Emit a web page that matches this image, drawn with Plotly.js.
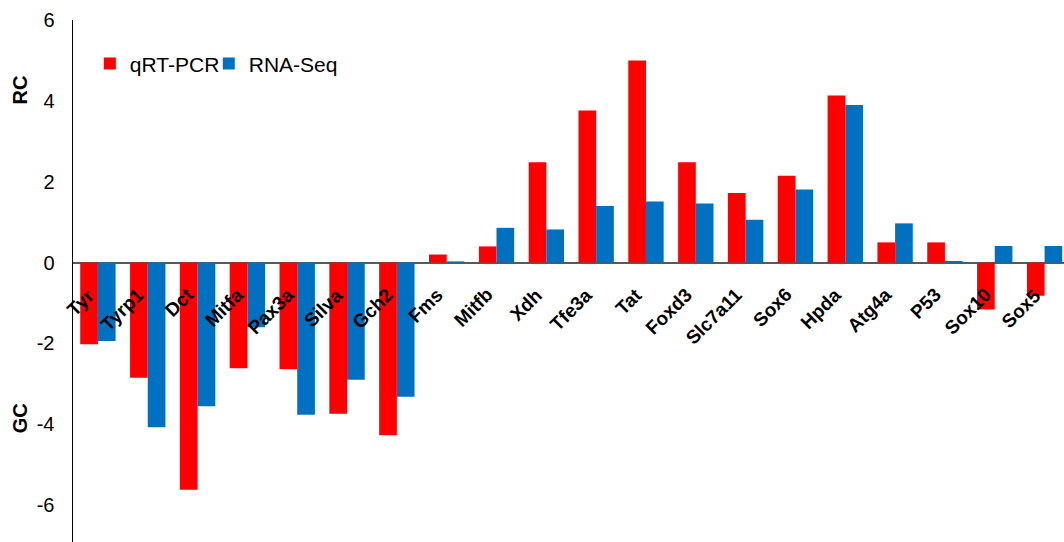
<!DOCTYPE html>
<html>
<head>
<meta charset="utf-8">
<script src="https://cdn.plot.ly/plotly-3.0.1.min.js"></script>
<style>html,body{margin:0;padding:0;background:#fff;}#chart{width:1064px;height:542px;}</style>
</head>
<body>
<div id="chart"></div>
<script>
var genes = ["Tyr","Tyrp1","Dct","Mitfa","Pax3a","Silva","Gch2","Fms","Mitfb","Xdh","Tfe3a","Tat","Foxd3","Slc7a11","Sox6","Hpda","Atg4a","P53","Sox10","Sox5"];
var qrtPcr = [-2.02,-2.85,-5.62,-2.61,-2.64,-3.74,-4.27,0.2,0.4,2.48,3.76,5.0,2.48,1.72,2.15,4.13,0.5,0.5,-1.16,-0.82];
var rnaSeq = [-1.94,-4.07,-3.55,-1.6,-3.76,-2.9,-3.32,0.03,0.86,0.82,1.4,1.51,1.46,1.06,1.81,3.9,0.97,0.04,0.41,0.41];
var yTicks = [-6,-4,-2,0,2,4,6];
var yTickText = ["-6","-4","-2","0","2","4","6"];
var seriesNames = ["qRT-PCR","RNA-Seq"];
var axisTitles = ["RC","GC"];

var idx = genes.map(function(g,i){return i;});
var traces = [
  {type:"bar", name:seriesNames[0], x:idx, y:qrtPcr, marker:{color:"#FF0000"}, legend:"legend"},
  {type:"bar", name:seriesNames[1], x:idx, y:rnaSeq, marker:{color:"#0070C0"}, legend:"legend2"}
];

var FONT = "Liberation Sans, Arial, sans-serif";
var ann = genes.map(function(g,i){
  return {x:i, y:0, xref:"x", yref:"y", text:"<b>"+g+"</b>", showarrow:false,
    textangle:-45, xanchor:"right", yanchor:"top", yshift:-19, xshift:3,
    font:{family:FONT, size:19, color:"#000"}};
});
ann.push({xref:"paper", yref:"y", x:-0.054, y:4.27, text:"<b>"+axisTitles[0]+"</b>", showarrow:false, textangle:-90,
  xanchor:"center", yanchor:"middle", font:{family:FONT, size:20, color:"#000"}});
ann.push({xref:"paper", yref:"y", x:-0.054, y:-3.84, text:"<b>"+axisTitles[1]+"</b>", showarrow:false, textangle:-90,
  xanchor:"center", yanchor:"middle", font:{family:FONT, size:20, color:"#000"}});

var legendStyle = function(xpos){
  return {orientation:"h", x:xpos, y:0.916, xanchor:"left", yanchor:"middle",
    font:{family:FONT, size:21, color:"#000"}, bgcolor:"rgba(0,0,0,0)", itemwidth:30};
};

var layout = {
  width:1064, height:542,
  margin:{l:73, r:0, t:20, b:0, pad:0},
  paper_bgcolor:"#fff", plot_bgcolor:"#fff",
  barmode:"group", bargap:0.29, bargroupgap:0,
  showlegend:true,
  legend:legendStyle(0.017),
  legend2:legendStyle(0.137),
  xaxis:{range:[-0.5,19.39], showticklabels:false, showgrid:false, zeroline:false, showline:false, ticks:""},
  yaxis:{range:[-6.91,6], tickvals:yTicks, ticktext:yTickText, showgrid:false,
    zeroline:true, zerolinecolor:"#595959", zerolinewidth:2,
    showline:true, linecolor:"#000", linewidth:1.5, ticks:"", ticklabelstandoff:13,
    tickfont:{family:FONT, size:20, color:"#000"}},
  annotations:ann,
  font:{family:FONT}
};
Plotly.newPlot("chart", traces, layout, {displayModeBar:false, staticPlot:true});
</script>
</body>
</html>
